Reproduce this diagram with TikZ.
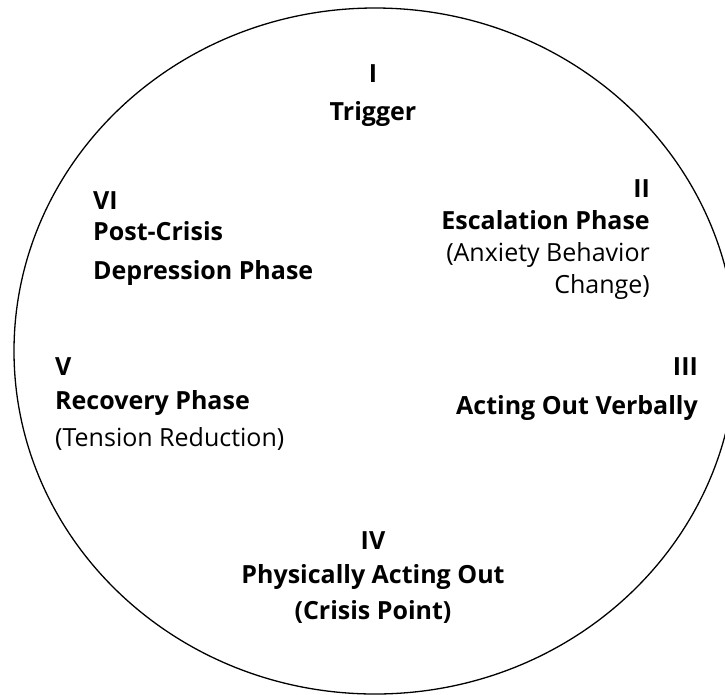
\documentclass[tikz,border=0pt]{standalone}
\usepackage{fontspec}
\setmainfont{Open Sans}

\begin{document}
\begin{tikzpicture}[x=1pt, y=-1pt,
  stage/.style={inner sep=0pt, font=\fontsize{25}{32}\selectfont\bfseries},
  rim/.style={draw=black, line width=1.3pt},
]
  \useasboundingbox (0,0) rectangle (725,694);

  % the cycle
  \draw[rim] (375,351) ellipse [x radius=361pt, y radius=343pt];

  \node[stage, anchor=north, align=center] (trigger) at (373,64)
    {I\\[6pt] Trigger};
  \node[stage, anchor=north east, align=right] (escalation) at (650,179)
    {II\\ Escalation Phase\\ {\mdseries (Anxiety Behavior}\\ {\mdseries Change)}};
  \node[stage, anchor=north east, align=right] (verbal) at (698,357)
    {III\\[7pt] Acting Out Verbally};
  \node[stage, anchor=north, align=center] (crisis) at (373,531)
    {IV\\[2pt] Physically Acting Out\\[4pt] (Crisis Point)};
  \node[stage, anchor=north west, align=left] (recovery) at (55,357)
    {V\\[2pt] Recovery Phase\\[5pt] {\mdseries (Tension Reduction)}};
  \node[stage, anchor=north west, align=left] (postcrisis) at (93,191)
    {VI\\[-1pt] Post-Crisis\\[7pt] Depression Phase};
\end{tikzpicture}
\end{document}
